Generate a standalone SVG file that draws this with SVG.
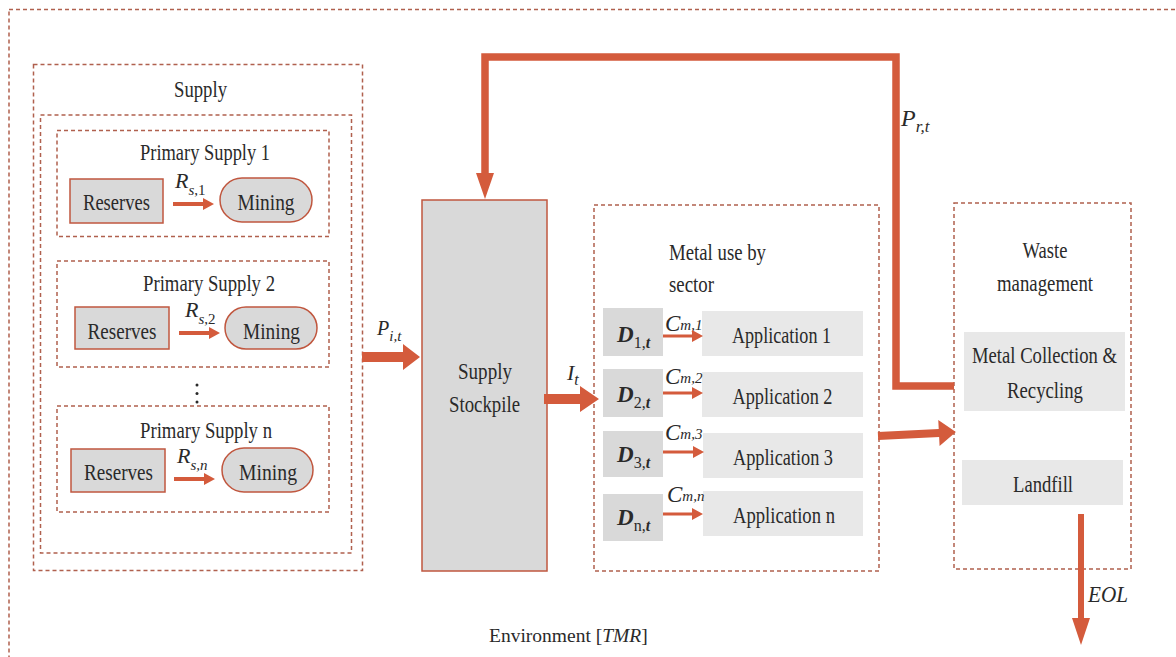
<svg xmlns="http://www.w3.org/2000/svg" width="1176" height="657" viewBox="0 0 1176 657">
  <style>
    .dash { fill: none; stroke: #b0604e; stroke-width: 1.5; stroke-dasharray: 4 3; }
    .box { fill: #d9d9d9; stroke: #c0573f; stroke-width: 1.5; }
    .sbox { fill: #d9d9d9; }
    .lbox { fill: #e8e8e8; }
    .arw { fill: #d45b3c; }
    .flow { fill: none; stroke: #d45b3c; stroke-width: 7.5; stroke-linejoin: miter; }
    .t { font-family: "Liberation Serif", "Times New Roman", serif; font-size: 23px; fill: #2a2a2a; text-anchor: middle; }
    .ts { font-family: "Liberation Serif", "Times New Roman", serif; font-size: 23px; fill: #2a2a2a; }
    .m { font-family: "Liberation Serif", "Times New Roman", serif; font-style: italic; fill: #2a2a2a; }
  </style>

  <rect width="1176" height="657" fill="#ffffff"/>

  <!-- Environment boundary -->
  <g id="environment">
    <rect class="dash" x="9" y="9.5" width="1200" height="700"/>
    <text class="ts" x="489" y="642" style="font-size:19.5px">Environment [<tspan font-style="italic">TMR</tspan>]</text>
  </g>

  <!-- Supply side -->
  <g id="supply">
    <rect class="dash" x="33.5" y="64.5" width="329" height="506"/>
    <rect class="dash" x="40.5" y="115" width="311" height="438"/>
    <text class="t" x="200.5" y="97" textLength="53" lengthAdjust="spacingAndGlyphs">Supply</text>
    <circle cx="197" cy="385" r="1.5" fill="#2a2a2a"/>
    <circle cx="197" cy="393.5" r="1.5" fill="#2a2a2a"/>
    <circle cx="197" cy="402" r="1.5" fill="#2a2a2a"/>
  </g>

  <g id="primary-supply-1">
    <rect class="dash" x="57" y="130.5" width="272" height="106"/>
    <text class="t" x="205" y="160" textLength="130" lengthAdjust="spacingAndGlyphs">Primary Supply 1</text>
    <rect class="box" x="70" y="179" width="93" height="44"/>
    <text class="t" x="116.5" y="210" textLength="67" lengthAdjust="spacingAndGlyphs">Reserves</text>
    <rect class="box" x="220" y="178" width="92" height="44" rx="22"/>
    <text class="t" x="266" y="210" textLength="57" lengthAdjust="spacingAndGlyphs">Mining</text>
    <text class="m" x="175" y="188" font-size="22">R<tspan dy="7" font-size="15">s</tspan><tspan font-size="15" font-style="normal">,1</tspan></text>
  </g>

  <g id="primary-supply-2">
    <rect class="dash" x="57" y="261" width="272" height="106"/>
    <text class="t" x="209" y="291" textLength="132" lengthAdjust="spacingAndGlyphs">Primary Supply 2</text>
    <rect class="box" x="75" y="307" width="94" height="42"/>
    <text class="t" x="122" y="339" textLength="69" lengthAdjust="spacingAndGlyphs">Reserves</text>
    <rect class="box" x="225" y="307" width="92" height="42" rx="21"/>
    <text class="t" x="271.5" y="339" textLength="57" lengthAdjust="spacingAndGlyphs">Mining</text>
    <text class="m" x="185" y="317" font-size="22">R<tspan dy="7" font-size="15">s</tspan><tspan font-size="15" font-style="normal">,2</tspan></text>
  </g>

  <g id="primary-supply-n">
    <rect class="dash" x="57" y="406" width="272" height="106"/>
    <text class="t" x="206" y="438" textLength="132" lengthAdjust="spacingAndGlyphs">Primary Supply n</text>
    <rect class="box" x="71" y="449" width="94" height="43"/>
    <text class="t" x="118.5" y="480" textLength="69" lengthAdjust="spacingAndGlyphs">Reserves</text>
    <rect class="box" x="222" y="448" width="91" height="44" rx="22"/>
    <text class="t" x="268" y="480" textLength="58" lengthAdjust="spacingAndGlyphs">Mining</text>
    <text class="m" x="177" y="463" font-size="22">R<tspan dy="7" font-size="15">s,n</tspan></text>
  </g>

  <!-- Stockpile -->
  <g id="stockpile">
    <rect class="box" x="422" y="200" width="125" height="371"/>
    <text class="t" x="485" y="379" textLength="54" lengthAdjust="spacingAndGlyphs">Supply</text>
    <text class="t" x="484.5" y="412" textLength="71" lengthAdjust="spacingAndGlyphs">Stockpile</text>
  </g>

  <!-- Metal use by sector -->
  <g id="metal-use">
    <rect class="dash" x="594" y="205" width="285" height="366"/>
    <text class="ts" x="669" y="260" textLength="97" lengthAdjust="spacingAndGlyphs">Metal use by</text>
    <text class="ts" x="669" y="292" textLength="45" lengthAdjust="spacingAndGlyphs">sector</text>
  </g>

  <g id="sector-1">
    <rect class="sbox" x="603" y="308" width="60" height="48"/>
    <text class="m" x="617" y="342" font-size="23" font-weight="bold">D<tspan dy="6" font-size="16" font-style="normal" font-weight="normal">1,</tspan><tspan font-size="16">t</tspan></text>
    <rect class="lbox" x="702" y="311" width="161" height="45"/>
    <text class="t" x="781.5" y="343" textLength="99" lengthAdjust="spacingAndGlyphs">Application 1</text>
    <text class="m" x="665" y="331" font-size="23">C<tspan dy="-1" font-size="15">m,1</tspan></text>
  </g>

  <g id="sector-2">
    <rect class="sbox" x="603" y="369" width="60" height="48"/>
    <text class="m" x="617" y="402" font-size="23" font-weight="bold">D<tspan dy="6" font-size="16" font-style="normal" font-weight="normal">2,</tspan><tspan font-size="16">t</tspan></text>
    <rect class="lbox" x="702" y="372" width="161" height="45"/>
    <text class="t" x="782.5" y="404" textLength="100" lengthAdjust="spacingAndGlyphs">Application 2</text>
    <text class="m" x="665" y="384" font-size="23">C<tspan dy="-1" font-size="15">m,2</tspan></text>
  </g>

  <g id="sector-3">
    <rect class="sbox" x="603" y="431" width="60" height="46"/>
    <text class="m" x="617" y="462" font-size="23" font-weight="bold">D<tspan dy="6" font-size="16" font-style="normal" font-weight="normal">3,</tspan><tspan font-size="16">t</tspan></text>
    <rect class="lbox" x="703" y="433" width="160" height="45"/>
    <text class="t" x="783" y="465" textLength="100" lengthAdjust="spacingAndGlyphs">Application 3</text>
    <text class="m" x="665" y="440" font-size="23">C<tspan dy="-1" font-size="15">m,3</tspan></text>
  </g>

  <g id="sector-n">
    <rect class="sbox" x="603" y="494" width="60" height="47"/>
    <text class="m" x="617" y="525" font-size="23" font-weight="bold">D<tspan dy="6" font-size="16" font-style="normal" font-weight="normal">n,</tspan><tspan font-size="16">t</tspan></text>
    <rect class="lbox" x="703" y="491" width="160" height="45"/>
    <text class="t" x="784" y="523" textLength="102" lengthAdjust="spacingAndGlyphs">Application n</text>
    <text class="m" x="667" y="502" font-size="23">C<tspan dy="-1" font-size="15">m,n</tspan></text>
  </g>

  <!-- Waste management -->
  <g id="waste">
    <rect class="dash" x="954" y="203" width="177" height="366"/>
    <text class="t" x="1045" y="258" textLength="45" lengthAdjust="spacingAndGlyphs">Waste</text>
    <text class="t" x="1045" y="291" textLength="96" lengthAdjust="spacingAndGlyphs">management</text>
  </g>

  <g id="recycling">
    <rect class="lbox" x="964" y="332" width="161" height="79"/>
    <text class="t" x="1044.5" y="363" textLength="145" lengthAdjust="spacingAndGlyphs">Metal Collection &amp;</text>
    <text class="t" x="1045" y="398" textLength="76" lengthAdjust="spacingAndGlyphs">Recycling</text>
  </g>

  <g id="landfill">
    <rect class="lbox" x="962" y="460" width="161" height="45"/>
    <text class="t" x="1043" y="492" textLength="60" lengthAdjust="spacingAndGlyphs">Landfill</text>
  </g>

  <!-- Flows -->
  <g id="connectors">
    <!-- reserves to mining -->
    <polygon class="arw" points="173,202 203,202 203,198 214,204 203,210 203,206 173,206"/>
    <polygon class="arw" points="179,331 209,331 209,327 220,333 209,339 209,335 179,335"/>
    <polygon class="arw" points="174,477 204,477 204,473 215,479 204,485 204,481 174,481"/>

    <!-- primary supply into stockpile -->
    <polygon class="arw" points="362,352 403,352 403,344 420,357 403,370 403,362 362,362"/>
    <text class="m" x="377" y="335" font-size="20">P<tspan dy="6" font-size="15">i,t</tspan></text>

    <!-- stockpile into sectors -->
    <polygon class="arw" points="544,394 580,394 580,386 599,399 580,412 580,404 544,404"/>
    <text class="m" x="567" y="380" font-size="22">I<tspan dy="5" font-size="16">t</tspan></text>

    <!-- sector demand to applications -->
    <polygon class="arw" points="663,334.5 692,334.5 692,330 703,336 692,342 692,337.5 663,337.5"/>
    <polygon class="arw" points="663,391.5 692,391.5 692,387 703,393 692,399 692,394.5 663,394.5"/>
    <polygon class="arw" points="663,450.5 693,450.5 693,446 704,452 693,458 693,453.5 663,453.5"/>
    <polygon class="arw" points="663,512.5 692,512.5 692,508 703,514 692,520 692,515.5 663,515.5"/>

    <!-- end of use to waste management -->
    <g transform="translate(878,436) rotate(-2.9)">
      <polygon class="arw" points="0,-4 61,-4 61,-13 78,0 61,13 61,4 0,4"/>
    </g>

    <!-- recycled metal back to the stockpile -->
    <path class="flow" d="M954,386 H896 V57 H485 V176"/>
    <polygon class="arw" points="476,173 494,173 485,199"/>
    <text class="m" x="901" y="126" font-size="24">P<tspan dy="6" font-size="17">r,t</tspan></text>

    <!-- landfill to end of life -->
    <line x1="1081" y1="514" x2="1081" y2="620" stroke="#d45b3c" stroke-width="6"/>
    <polygon class="arw" points="1072,618 1090,618 1081,645"/>
    <text class="m" x="1088" y="602" font-size="24" textLength="40" lengthAdjust="spacingAndGlyphs">EOL</text>
  </g>
</svg>
